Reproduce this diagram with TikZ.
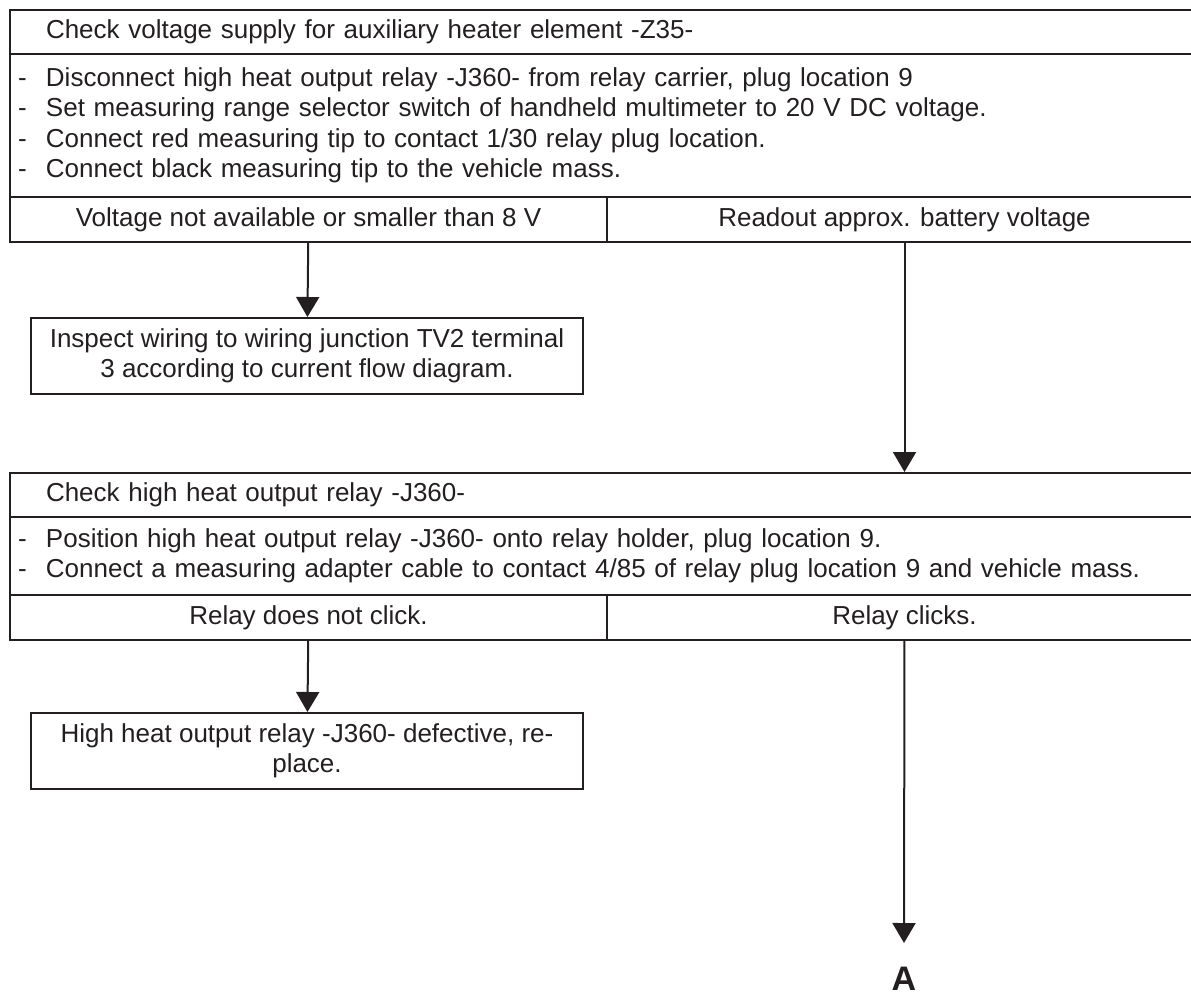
\documentclass[tikz,border=0pt]{standalone}
\usepackage{fontspec}
\setmainfont{Liberation Sans}
\usetikzlibrary{positioning, arrows.meta}
\definecolor{ink}{HTML}{231F20}

\newcommand{\dashitem}{\makebox[28pt][l]{-}}

\begin{document}
\begin{tikzpicture}[
    x=1pt, y=-1pt, every node/.style={font=\fontsize{26}{30.5}\selectfont, text=ink},
    frame/.style={draw=ink, line width=2pt, anchor=north west, inner sep=0pt},
    head/.style={frame, minimum width=1192pt, minimum height=44pt, text width=1120pt, inner xsep=36pt, align=left},
    steps/.style={frame, minimum width=1192pt, inner xsep=8pt, text width=1176pt, align=left},
    branch/.style={frame, minimum height=45pt, align=center},
    result/.style={frame, minimum width=552pt, minimum height=76pt, align=center},
    arrow/.style={-{Triangle[length=20pt, width=23pt]}, draw=ink, line width=2pt}
  ]
  \useasboundingbox (0,0) rectangle (1191,995);
  \clip (0,0) rectangle (1191,995);

  % first check: supply voltage
  \node[head] (h1) at (9,9) {Check voltage supply for auxiliary heater element -Z35-};
  \node[steps, minimum height=143pt] (s1) at (9,53) {%
    \dashitem Disconnect high heat output relay -J360- from relay carrier, plug location 9\\
    \dashitem Set measuring range selector switch of handheld multimeter to 20 V DC voltage.\\
    \dashitem Connect red measuring tip to contact 1/30 relay plug location.\\
    \dashitem Connect black measuring tip to the vehicle mass.};
  \node[branch, minimum width=597pt] (n1) at (9,196) {Voltage not available or smaller than 8 V};
  \node[branch, minimum width=595pt] (y1) at (606,196) {Readout approx. battery voltage};
  \node[result] (r1) at (30,317) {Inspect wiring to wiring junction TV2 terminal\\3 according to current flow diagram.};
  \draw[arrow] (n1) -- (r1);

  % second check: relay
  \node[head] (h2) at (9,472) {Check high heat output relay -J360-};
  \draw[arrow] (y1) -- (y1.south |- h2.north);
  \node[steps, minimum height=78pt] (s2) at (9,516) {%
    \dashitem Position high heat output relay -J360- onto relay holder, plug location 9.\\
    \dashitem Connect a measuring adapter cable to contact 4/85 of relay plug location 9 and vehicle mass.};
  \node[branch, minimum width=597pt] (n2) at (9,594) {Relay does not click.};
  \node[branch, minimum width=595pt] (y2) at (606,594) {Relay clicks.};
  \node[result] (r2) at (30,712) {High heat output relay -J360- defective, re-\\place.};
  \draw[arrow] (n2) -- (r2);

  % continue on next page
  \node[anchor=north, inner sep=0pt, font=\fontsize{34}{34}\selectfont\bfseries] (A) at (904,967) {A};
  \draw[arrow] (y2) -- ([yshift=24pt]A.north);
\end{tikzpicture}
\end{document}
